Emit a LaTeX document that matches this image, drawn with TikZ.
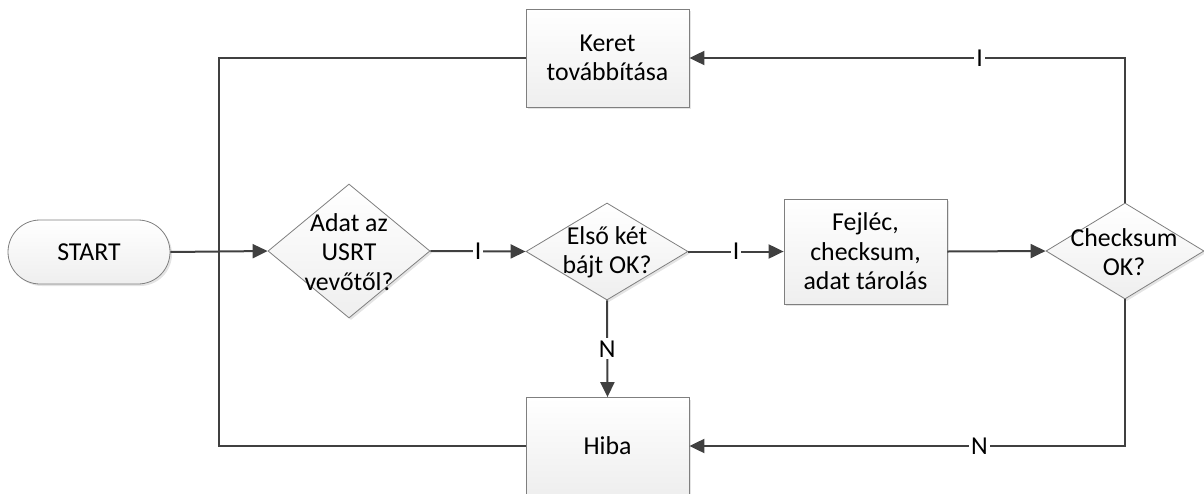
\documentclass[tikz,border=0pt]{standalone}
\usepackage{fontspec}
\setmainfont{Carlito}
\usetikzlibrary{arrows.meta,shapes.geometric,shadows}
\definecolor{linec}{HTML}{404040}
\definecolor{bordc}{HTML}{7F7F7F}
\begin{document}
\begin{tikzpicture}[x=1pt,y=-1pt,
  every node/.style={font=\fontsize{25.8}{29.5}\selectfont, text=black},
  shapebase/.style={draw=bordc, line width=0.8pt, top color=white, bottom color=gray!13,
    drop shadow={shadow xshift=2pt, shadow yshift=-2pt, fill=gray!60, opacity=0.35},
    align=center, inner sep=0pt},
  procbox/.style={shapebase, rectangle, minimum width=163pt},
  termbox/.style={shapebase, rectangle, rounded corners=32pt, minimum width=162pt, minimum height=64pt},
  decision/.style={shapebase, diamond},
  dtext/.style={align=center, inner sep=0pt},
  conn/.style={draw=linec, line width=2pt},
  arr/.style={-{Triangle[length=15pt, width=14pt]}},
  lbl/.style={fill=white, inner sep=2pt}
]
\useasboundingbox (0,0) rectangle (1204,493);

\node[termbox] (start) at (89,252) {START};

\node[decision, minimum width=162pt, minimum height=134pt] (d1) at (349,251) {};
\node[dtext] (d1t) at (349,252) {Adat az\\USRT\\vevőtől?};

\node[decision, minimum width=162pt, minimum height=97pt] (d2) at (607,251.5) {};
\node[dtext] (d2t) at (607,252) {Első két\\bájt OK?};

\node[procbox, minimum height=105pt] (fej) at (865.5,251.5) {Fejléc,\\checksum,\\adat tárolás};

\node[decision, minimum width=158pt, minimum height=96pt] (cs) at (1125,251) {};
\node[dtext] (cst) at (1124,252) {Checksum\\OK?};

\node[procbox, minimum height=98pt] (keret) at (607.5,58) {Keret\\továbbítása};
\node[procbox, minimum height=97pt] (hiba) at (607.5,446) {Hiba};

\coordinate (j) at (219,252);

\draw[conn] (keret.west) -| (j);
\draw[conn] (hiba.west) -| (j);
\draw[conn, arr] (start.east) -- (d1.west);
\draw[conn, arr] (d1.east) -- node[lbl] {I} (d2.west);
\draw[conn, arr] (d2.east) -- node[lbl] {I} (fej.west);
\draw[conn, arr] (fej.east) -- (cs.west);
\draw[conn, arr] (d2.south) -- node[lbl] {N} (hiba.north);
\draw[conn, arr] (cs.north) |- node[lbl, pos=0.667] {I} (keret.east);
\draw[conn, arr] (cs.south) |- node[lbl, pos=0.667] {N} (hiba.east);
\end{tikzpicture}
\end{document}
